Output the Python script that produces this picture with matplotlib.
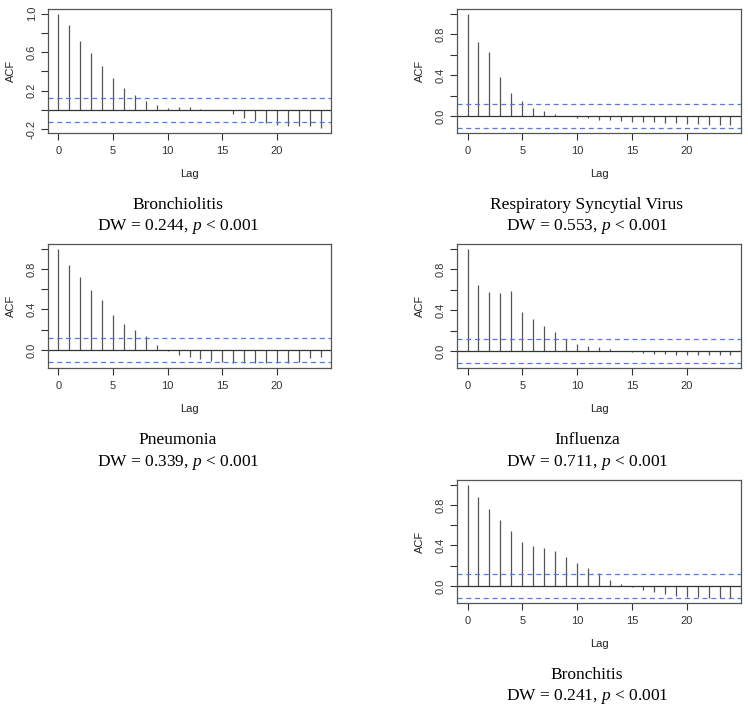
import numpy as np
import matplotlib.pyplot as plt

plt.rcParams['mathtext.fontset'] = 'custom'
plt.rcParams['mathtext.rm'] = 'Liberation Serif'
plt.rcParams['mathtext.it'] = 'Liberation Serif:italic'
plt.rcParams['font.family'] = 'Liberation Sans'

# ACF values, lags 0..24
lags = np.arange(0, 25)

acf_bronchiolitis = [1.0, 0.879, 0.717, 0.59, 0.459, 0.328, 0.231, 0.159, 0.097, 0.052,
                     0.024, 0.031, 0.031, 0.014, 0.003, -0.003, -0.038, -0.083, -0.117,
                     -0.134, -0.159, -0.169, -0.166, -0.169, -0.19]
acf_rsv = [1.0, 0.725, 0.621, 0.379, 0.222, 0.150, 0.078, 0.049, 0.02, -0.003,
           -0.02, -0.023, -0.036, -0.039, -0.049, -0.056, -0.059, -0.059, -0.065,
           -0.072, -0.075, -0.078, -0.082, -0.082, -0.085]
acf_pneumonia = [1.0, 0.837, 0.724, 0.591, 0.492, 0.349, 0.259, 0.199, 0.133, 0.05,
                 -0.01, -0.05, -0.073, -0.093, -0.106, -0.12, -0.126, -0.13, -0.133,
                 -0.133, -0.133, -0.126, -0.123, -0.083, -0.066]
acf_influenza = [1.0, 0.648, 0.579, 0.562, 0.585, 0.378, 0.309, 0.247, 0.187, 0.115,
                 0.072, 0.053, 0.04, 0.02, 0.003, -0.01, -0.023, -0.03, -0.033,
                 -0.036, -0.036, -0.04, -0.04, -0.04, -0.04]
acf_bronchitis = [1.0, 0.878, 0.757, 0.648, 0.539, 0.437, 0.391, 0.372, 0.349, 0.289,
                  0.224, 0.174, 0.125, 0.059, 0.016, -0.01, -0.036, -0.059, -0.082,
                  -0.102, -0.109, -0.112, -0.118, -0.118, -0.122]

ci = 0.12

names = ["Bronchiolitis", "Respiratory Syncytial Virus", "Pneumonia", "Influenza", "Bronchitis"]
dw_values = ["0.244", "0.553", "0.339", "0.711", "0.241"]
series = [acf_bronchiolitis, acf_rsv, acf_pneumonia, acf_influenza, acf_bronchitis]

W, H = 748, 712
fig = plt.figure(figsize=(W / 100, H / 100), dpi=100)

# axes boxes in pixels: left, top, right, bottom
boxes = [(48, 9, 331, 133), (457, 9, 741, 133),
         (48, 244, 331, 368), (457, 244, 741, 368),
         (457, 480, 741, 603)]
# caption centres in pixels: x, y of name line
captions = [(178, 205), (587, 205), (178, 440), (587, 440), (587, 675)]

axcol = "#555555"

for vals, name, dw, box, cap in zip(series, names, dw_values, boxes, captions):
    l, t, r, b = box
    ax = fig.add_axes([l / W, 1 - b / H, (r - l) / W, (b - t) / H])
    vals = np.array(vals)
    ax.vlines(lags, 0, vals, color="#555555", lw=0.9)
    ax.axhline(0, color="#333333", lw=0.9)
    ax.axhline(ci, color="#5577f0", lw=0.9, ls=(0, (4, 3)))
    ax.axhline(-ci, color="#5577f0", lw=0.9, ls=(0, (4, 3)))
    lo = min(vals.min(), -ci)
    hi = max(vals.max(), ci)
    pad = (hi - lo) * 0.04
    y0, y1 = lo - pad, hi + pad
    ax.set_ylim(y0, y1)
    ax.set_xlim(-0.96, 24.96)

    ax.set_xticks([0, 5, 10, 15, 20])
    yt = np.round(np.arange(-0.2, 1.01, 0.2), 1)
    yt = yt[(yt >= y0) & (yt <= y1)]
    ax.set_yticks(yt)
    # R drops every other label when they would overlap
    labels = [f"{v:.1f}" if i % 2 == 0 else "" for i, v in enumerate(yt)]
    ax.set_yticklabels(labels, rotation=90, va="center")
    ax.tick_params(labelsize=8, colors="#333333", length=5, width=0.8, pad=4)
    ax.tick_params(axis="y", pad=3)
    for s in ax.spines.values():
        s.set_color(axcol)
        s.set_linewidth(0.9)
    ax.set_xlabel("Lag", fontsize=8, labelpad=10, color="#222222")
    ax.set_ylabel("ACF", fontsize=8, labelpad=8, color="#222222")

    cx, cy = cap
    fig.text(cx / W, 1 - cy / H, name, ha="center", va="center",
             fontsize=12.5, family="Liberation Serif")
    fig.text(cx / W, 1 - (cy + 22) / H, f"DW = {dw}, $\\mathit{{p}}$ < 0.001",
             ha="center", va="center", fontsize=12.5, family="Liberation Serif")

fig.savefig("out.png", dpi=100)
